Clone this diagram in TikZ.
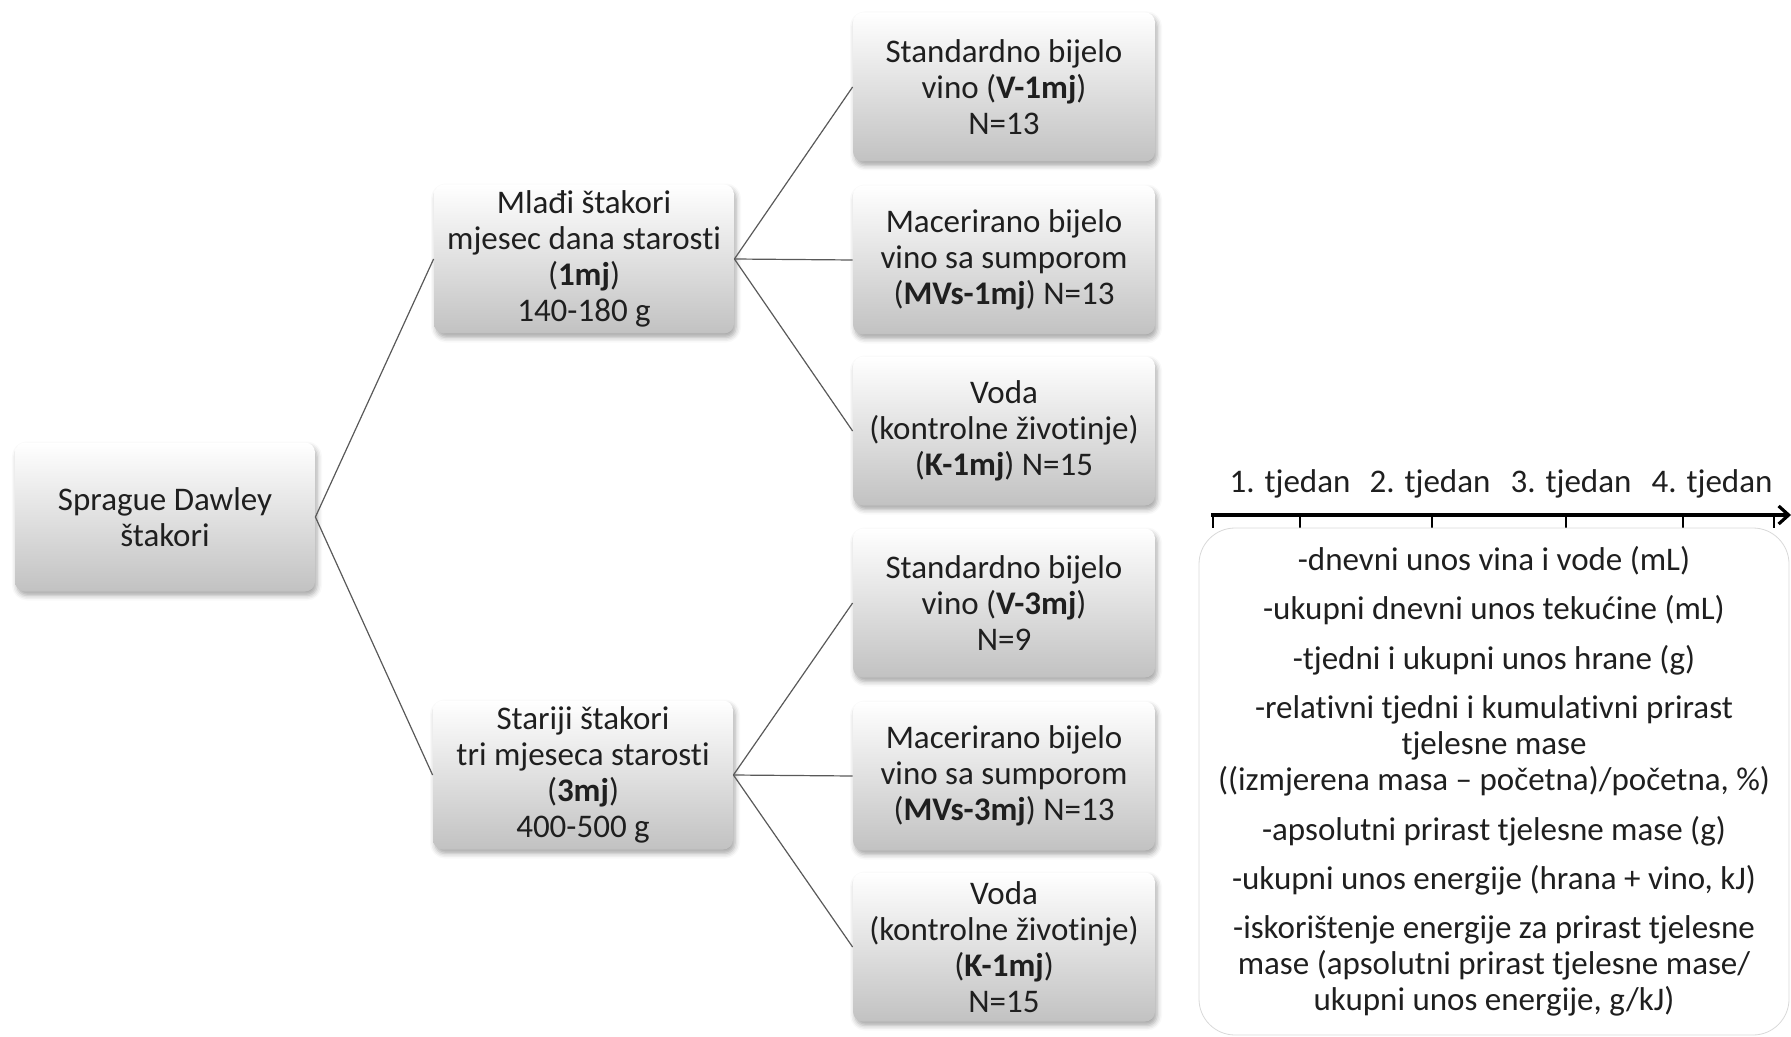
\documentclass[tikz,border=0pt]{standalone}
\usepackage{fontspec}
\setmainfont[Ligatures={NoCommon}]{Carlito}
\usetikzlibrary{shadows.blur,arrows.meta}

\begin{document}
\begin{tikzpicture}[x=0.5pt,y=-0.5pt,
  grp/.style={rounded corners=5pt,top color=white,bottom color=black!24,
    blur shadow={shadow xshift=1pt,shadow yshift=-2pt,shadow blur radius=2.5pt,shadow opacity=35},
    minimum width=150pt,minimum height=74.5pt,align=center,inner sep=1pt,
    font=\fontsize{16.5}{18}\selectfont,text=black!88},
  link/.style={draw=black!65,line width=0.6pt},
  week/.style={font=\fontsize{16.5}{18}\selectfont,text=black!88,inner sep=0pt}]
\useasboundingbox (0,0) rectangle (1791,1037);

% rats and age groups
\node[grp] (rats) at (165,517) {Sprague Dawley\\štakori};
\node[grp] (young) at (584,259) {Mlađi štakori\\mjesec dana starosti\\(\textbf{1mj})\\140-180 g};
\node[grp] (old) at (583,775) {Stariji štakori\\tri mjeseca starosti\\(\textbf{3mj})\\400-500 g};

% treatment groups
\node[grp,minimum width=151pt] (v1) at (1004,87) {Standardno bijelo\\vino (\textbf{V-1mj})\\N=13};
\node[grp,minimum width=151pt] (mv1) at (1004,260) {Macerirano bijelo\\vino sa sumporom\\(\textbf{MVs-1mj}) N=13};
\node[grp,minimum width=151pt] (k1) at (1004,431) {Voda\\(kontrolne životinje)\\(\textbf{K-1mj}) N=15};
\node[grp,minimum width=151pt] (v3) at (1004,603) {Standardno bijelo\\vino (\textbf{V-3mj})\\N=9};
\node[grp,minimum width=151pt] (mv3) at (1004,776) {Macerirano bijelo\\vino sa sumporom\\(\textbf{MVs-3mj}) N=13};
\node[grp,minimum width=151pt] (k3) at (1004,947) {Voda\\(kontrolne životinje)\\(\textbf{K-1mj})\\N=15};

\draw[link] (rats.east) -- (young.west);
\draw[link] (rats.east) -- (old.west);
\foreach \c in {v1,mv1,k1}
  \draw[link] (young.east) -- (\c.west);
\foreach \c in {v3,mv3,k3}
  \draw[link] (old.east) -- (\c.west);

% weeks
\coordinate (t0) at (1211,515);
\coordinate (t1) at (1791,515);
\draw[line width=1.6pt,-{Straight Barb[length=5pt,width=9pt]}] (t0) -- (t1);
\foreach \x in {1213,1300,1432,1566,1683,1774}
  \draw[line width=0.8pt] (\x,515) -- (\x,528);
\foreach \x/\n in {1290/1,1430/2,1571/3,1712/4}
  \node[week] (w\n) at (\x,484) {\n. tjedan};

% measurements
\node[draw=black!15,fill=white,rounded corners=18pt,minimum width=295pt,minimum height=253.5pt,
  align=center,font=\fontsize{16.5}{18}\selectfont,text=black!88] (meas) at (1494,781.5)
  {-dnevni unos vina i vode (mL)\\[6.7pt]
   -ukupni dnevni unos tekućine (mL)\\[6.7pt]
   -tjedni i ukupni unos hrane (g)\\[6.7pt]
   -relativni tjedni i kumulativni prirast\\tjelesne mase\\((izmjerena masa – početna)/početna, \%)\\[6.7pt]
   -apsolutni prirast tjelesne mase (g)\\[6.7pt]
   -ukupni unos energije (hrana + vino, kJ)\\[6.7pt]
   -iskorištenje energije za prirast tjelesne\\mase (apsolutni prirast tjelesne mase/\\ukupni unos energije, g/kJ)};
\end{tikzpicture}
\end{document}
